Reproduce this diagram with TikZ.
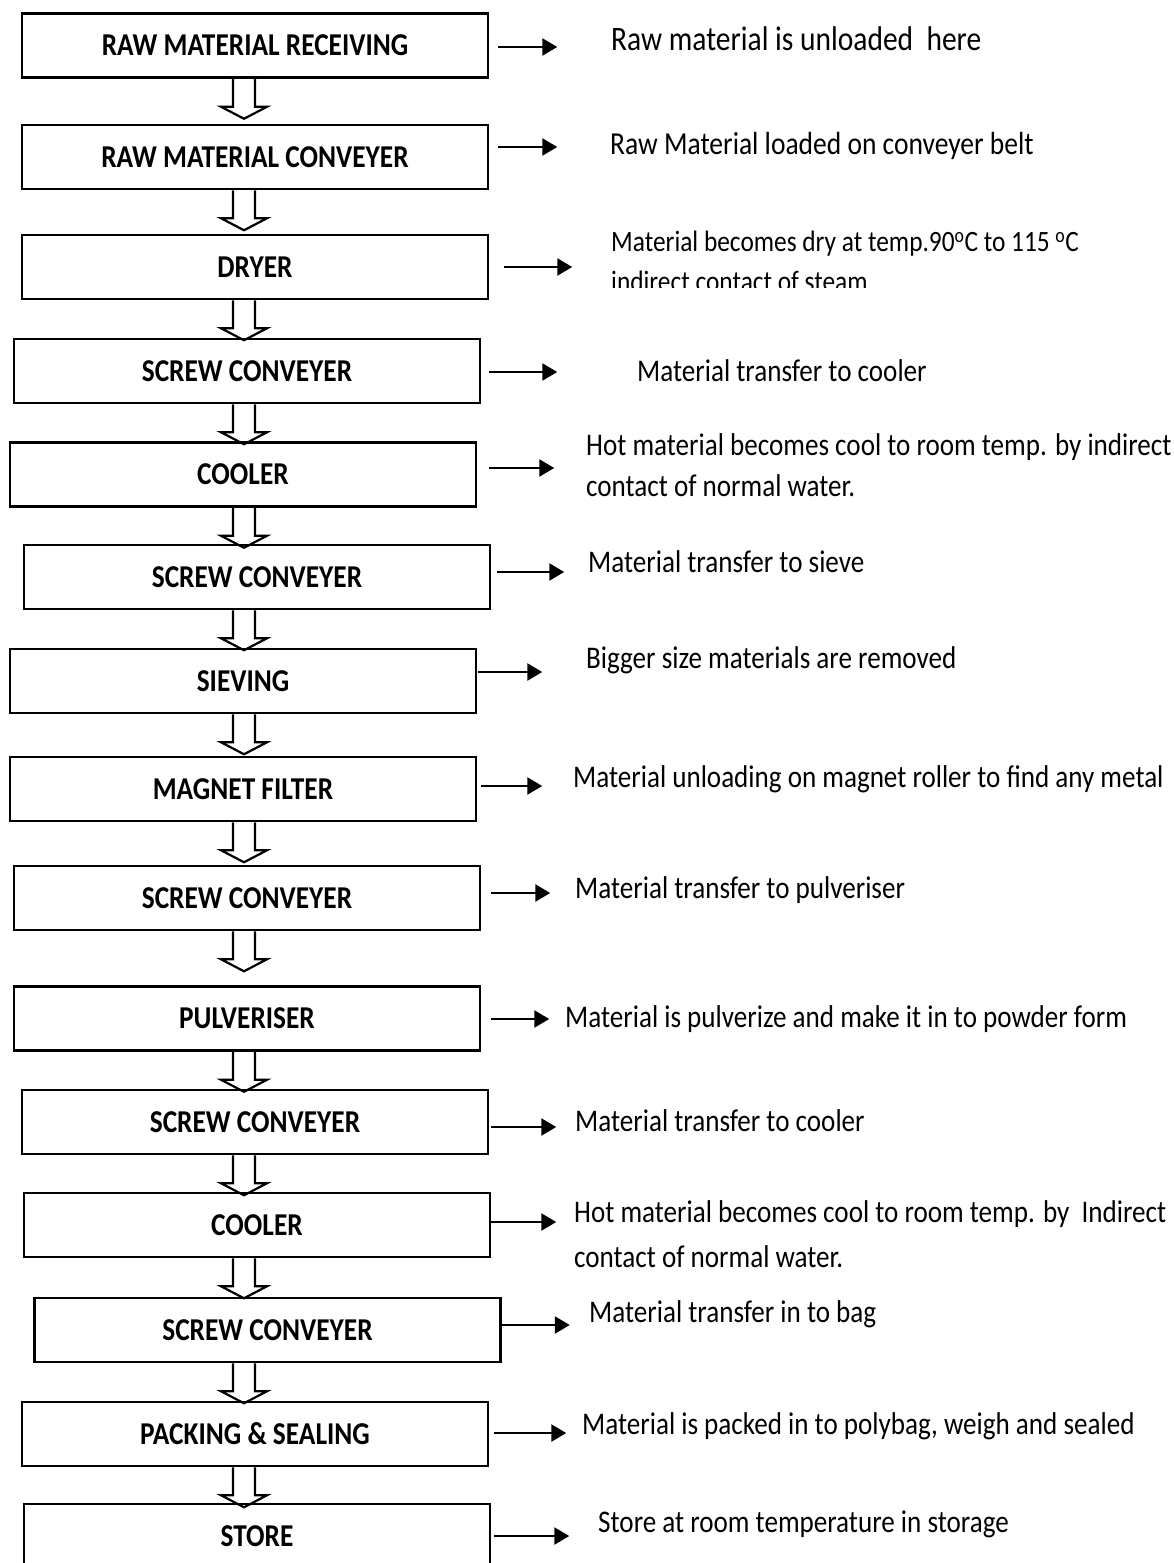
\documentclass[tikz,border=0pt]{standalone}
\usepackage{fontspec}
\setmainfont{Carlito}[FakeStretch=0.86]
\usetikzlibrary{calc,arrows.meta}
\tikzset{
  stepbox/.style={draw, line width=2.5pt, minimum width=466pt, minimum height=64pt, inner sep=0pt,
    font=\fontsize{31.8}{36}\selectfont\bfseries},
  note/.style={anchor=west, inner sep=0pt, font=\fontsize{31.5}{36}\selectfont, align=left},
  ra/.style={line width=2.5pt, -{Triangle[length=15pt,width=17pt]}},
  hol/.style={line width=2.2pt, line join=miter},
}
\newcommand\harrow[1]{%
  \draw[hol] let \p1=(#1.south) in
    (233pt,\y1) -- (233pt,\y1-28pt) -- (221pt,\y1-28pt) -- (244pt,\y1-40pt)
    -- (267pt,\y1-28pt) -- (255pt,\y1-28pt) -- (255pt,\y1);}
\begin{document}
\begin{tikzpicture}[x=1pt,y=-1pt]
\clip (0,0) rectangle (1174,1563);
\fill[white] (0,0) rectangle (1174,1563);
% boxes
\node[stepbox] (b1) at (255,45.5) {RAW MATERIAL RECEIVING};
\node[stepbox] (b2) at (255,157) {RAW MATERIAL CONVEYER};
\node[stepbox] (b3) at (255,267) {DRYER};
\node[stepbox] (b4) at (247,371) {SCREW CONVEYER};
\node[stepbox] (b5) at (243,474.5) {COOLER};
\node[stepbox] (b6) at (257,577) {SCREW CONVEYER};
\node[stepbox] (b7) at (243,681) {SIEVING};
\node[stepbox] (b8) at (243,789) {MAGNET FILTER};
\node[stepbox] (b9) at (247,898) {SCREW CONVEYER};
\node[stepbox] (b10) at (247,1018.5) {PULVERISER};
\node[stepbox] (b11) at (255,1122) {SCREW CONVEYER};
\node[stepbox] (b12) at (257,1225) {COOLER};
\node[stepbox] (b13) at (267.5,1330) {SCREW CONVEYER};
\node[stepbox] (b14) at (255,1434) {PACKING \& SEALING};
\node[stepbox] (b15) at (257,1536) {STORE};
% hollow arrows
\foreach \i in {1,...,14} {\harrow{b\i}}
% notes
\node[note, font=\fontsize{34.3}{40}\selectfont] (t1) at (611,39) {Raw material is unloaded\ \ here};
\node[note, font=\fontsize{32}{40}\selectfont] (t2) at (610,146) {Raw Material loaded on conveyer belt};
\begin{scope}
\clip (500,200) rectangle (1174,287);
\node[note, font=\fontsize{29.5}{40}\selectfont] (t3) at (611,261) {Material becomes dry at temp.90\textsuperscript{o}C to 115 \textsuperscript{o}C\\ indirect contact of steam};
\end{scope}
\node[note] (t4) at (637,371) {Material transfer to cooler};
\node[note, font=\fontsize{31.5}{41}\selectfont] (t5) at (586,465.5) {Hot material becomes cool to room temp. by indirect\\ contact of normal water.};
\node[note] (t6) at (588,562) {Material transfer to sieve};
\node[note] (t7) at (586,660) {Bigger size materials are removed};
\node[note] (t8) at (573,779) {Material unloading on magnet roller to find any metal};
\node[note] (t9) at (575,890) {Material transfer to pulveriser};
\node[note] (t10) at (565,1019) {Material is pulverize and make it in to powder form};
\node[note] (t11) at (575,1121) {Material transfer to cooler};
\node[note, font=\fontsize{31.5}{45}\selectfont] (t12) at (574,1234.5) {Hot material becomes cool to room temp. by\ \ Indirect\\ contact of normal water.};
\node[note] (t13) at (589,1314) {Material transfer in to bag};
\node[note] (t14) at (582,1426) {Material is packed in to polybag, weigh and sealed};
\node[note] (t15) at (598,1524) {Store at room temperature in storage};
% right arrows
\draw[ra] ([shift={(9,1.5)}]b1.east) -- ++(59,0);
\draw[ra] ([shift={(9,-10)}]b2.east) -- ++(59,0);
\draw[ra] ([shift={(15,0)}]b3.east) -- ++(68,0);
\draw[ra] ([shift={(8,1)}]b4.east) -- ++(68,0);
\draw[ra] ([shift={(12,-6.5)}]b5.east) -- ++(65,0);
\draw[ra] ([shift={(6,-5)}]b6.east) -- ++(67,0);
\draw[ra] ([shift={(1,-9)}]b7.east) -- ++(64,0);
\draw[ra] ([shift={(4,-3)}]b8.east) -- ++(61,0);
\draw[ra] ([shift={(10,-5)}]b9.east) -- ++(59,0);
\draw[ra] ([shift={(10,0.5)}]b10.east) -- ++(58,0);
\draw[ra] ([shift={(2,5)}]b11.east) -- ++(65,0);
\draw[ra] ([shift={(0,-3)}]b12.east) -- ++(65,0);
\draw[ra] ([shift={(0,-5)}]b13.east) -- ++(68,0);
\draw[ra] ([shift={(5,-1)}]b14.east) -- ++(72,0);
\draw[ra] ([shift={(3,0)}]b15.east) -- ++(75,0);
\end{tikzpicture}
\end{document}
